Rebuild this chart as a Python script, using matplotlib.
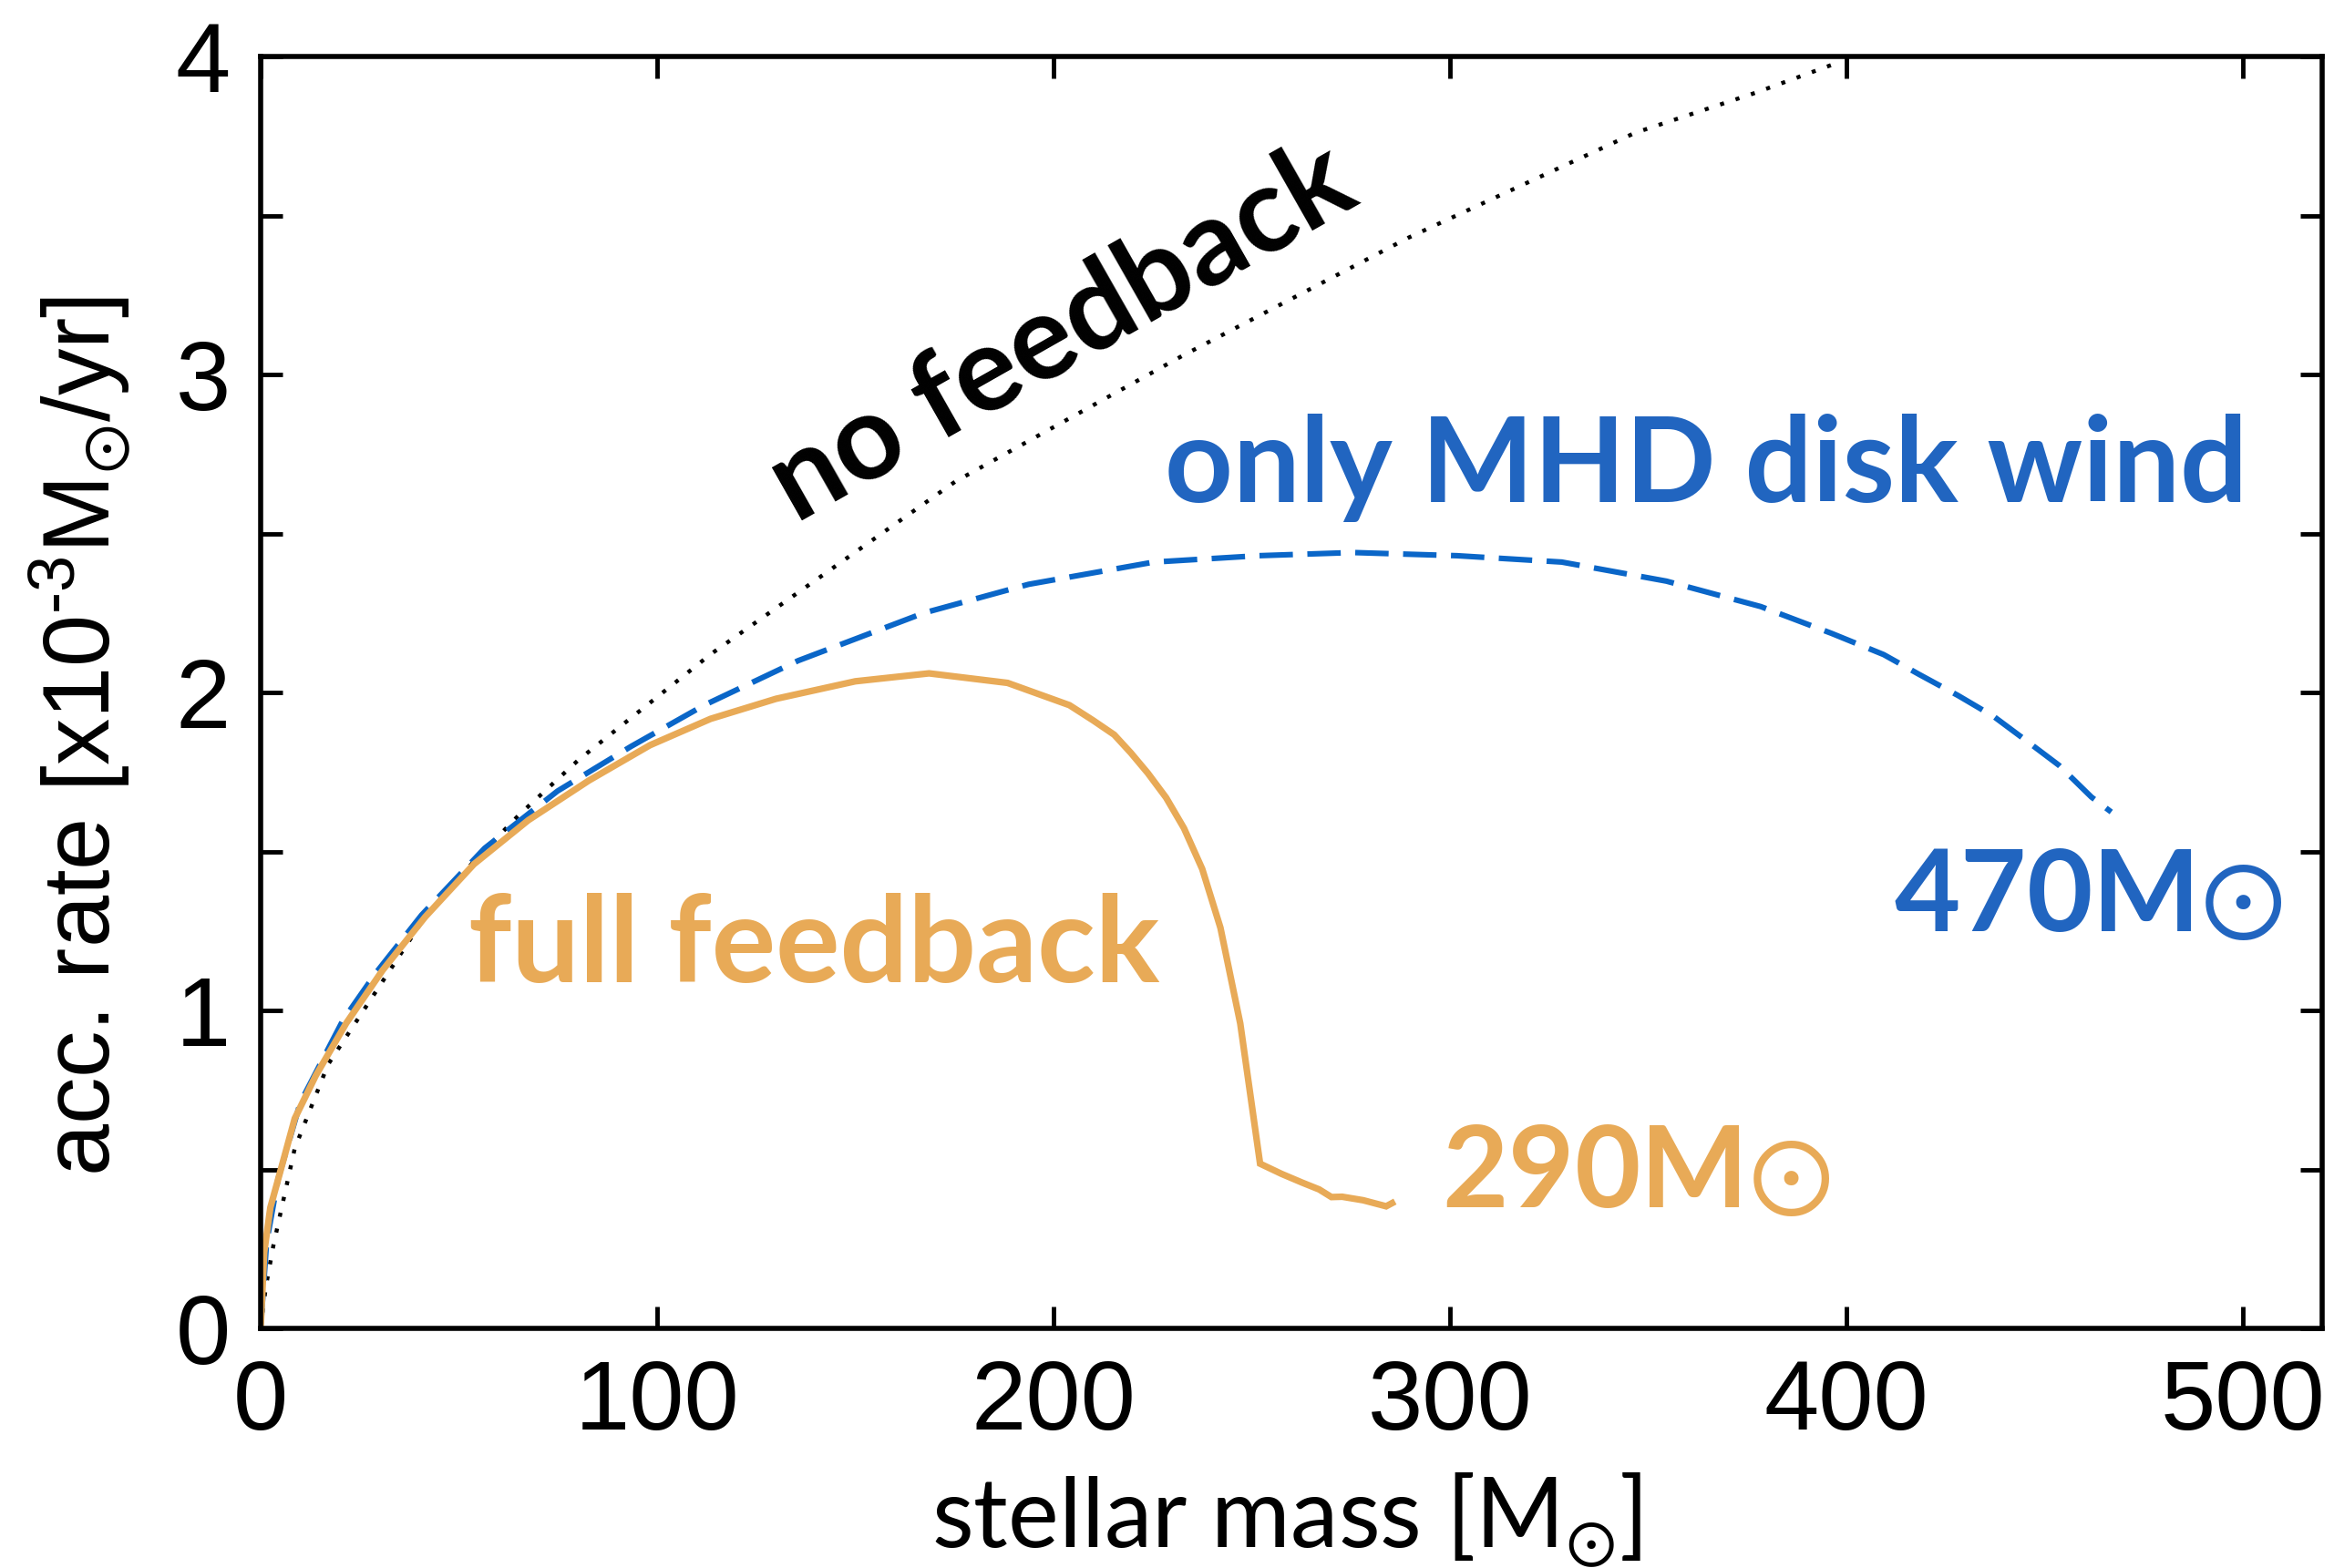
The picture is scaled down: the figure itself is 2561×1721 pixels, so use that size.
import matplotlib
matplotlib.use('Agg')
import matplotlib.pyplot as plt
from matplotlib.ticker import MultipleLocator

# stellar mass [Msun] vs accretion rate [1e-3 Msun/yr]
mass_none = [0, 1.3, 3.2, 8.6, 17, 40.7, 47.6, 54.5, 65.2, 80.2, 113.5,
             175.2, 232.4, 289.5, 346.7, 377.1, 397.7]
rate_none = [0, 0.13, 0.26, 0.566, 0.83, 1.28, 1.384, 1.478, 1.615, 1.788, 2.12,
             2.663, 3.058, 3.43, 3.76, 3.886, 3.98]

mass_wind = [0, 1.5, 4.4, 10, 20.8, 29.2, 40.6, 56.5, 74.9, 93.4, 111.9, 135.6,
             167.3, 193.7, 225.3, 251.7, 275.5, 301.8, 328.2, 354.6, 378.4,
             396.2, 409.4, 418.3, 428.2, 437.2, 445.4, 453.6, 461.8, 466.8]
rate_wind = [0, 0.27, 0.47, 0.71, 0.97, 1.12, 1.30, 1.51, 1.69, 1.83, 1.96, 2.10,
             2.25, 2.34, 2.41, 2.43, 2.44, 2.43, 2.41, 2.35, 2.27,
             2.186, 2.119, 2.057, 1.99, 1.924, 1.848, 1.771, 1.671, 1.624]

mass_full = [0, 0.9, 2.45, 5.1, 8.6, 13.9, 21.6, 30.8, 41.5, 53.8, 67.5, 82.8,
             98.2, 113.5, 130, 150, 168.6, 188.4, 204, 210, 215.3, 219.5, 223.8,
             228.4, 232.9, 237.5, 242.1, 247.1, 252.1, 257.5, 262.8, 267.0,
             270.1, 272.8, 278.1, 283.9, 285.4]
rate_full = [0, 0.24, 0.38, 0.5, 0.66, 0.795, 0.96, 1.127, 1.294, 1.46, 1.598, 1.723,
             1.834, 1.917, 1.98, 2.035, 2.06, 2.03, 1.96, 1.912, 1.867, 1.81, 1.746,
             1.669, 1.573, 1.445, 1.26, 0.959, 0.518, 0.486, 0.458, 0.437,
             0.413, 0.414, 0.403, 0.384, 0.394]

ORANGE = '#E8AA57'
BLUE_LINE = '#0A66C8'
BLUE_TEXT = '#2165C0'

plt.rcParams['mathtext.fontset'] = 'dejavusans'
plt.rcParams['mathtext.default'] = 'regular'

fig = plt.figure(figsize=(25.61, 17.21), dpi=100)
ax = fig.add_axes([286 / 2561, 1 - 1458 / 1721, 2262 / 2561, 1396 / 1721])

ax.plot(mass_none, rate_none, color='black', lw=3.2, linestyle=(0, (1, 3)))
ax.plot(mass_wind, rate_wind, color=BLUE_LINE, lw=4.4, linestyle=(0, (6.0, 2.6)))
ax.plot(mass_full, rate_full, color=ORANGE, lw=5.2, solid_joinstyle='miter')

ax.set_xlim(0, 520)
ax.set_ylim(0, 4)
ax.xaxis.set_major_locator(MultipleLocator(100))
ax.yaxis.set_major_locator(MultipleLocator(1))
ax.yaxis.set_minor_locator(MultipleLocator(0.5))
ax.tick_params(which='both', direction='in', top=True, right=True,
               length=17, width=3.5)
ax.tick_params(axis='x', which='minor', top=False, bottom=False)
ax.tick_params(axis='x', pad=24)
ax.tick_params(axis='y', pad=24)
for spine in ax.spines.values():
    spine.set_linewidth(4)
for lab in ax.get_xticklabels() + ax.get_yticklabels():
    lab.set_fontfamily('Liberation Sans')
    lab.set_fontsize(78)

# axis labels
fig.text(87 / 2561, 1 - 808 / 1721, 'acc. rate [x10$^{‐3}$M$_{\\odot}$/yr]',
         rotation=90, ha='center', va='center', fontsize=74,
         family=['Liberation Sans', 'DejaVu Sans'])
fig.text(1412 / 2561, 1 - 1699 / 1721, 'stellar mass [M$_{\\odot}$]',
         ha='center', va='baseline', fontsize=76,
         family=['Lato', 'DejaVu Sans'])

# curve annotations
bold = dict(fontweight='bold', family=['Lato', 'DejaVu Sans'],
            va='baseline', ha='left')
ax.text(135, 2.53, 'no feedback', color='black', rotation=29.6,
        rotation_mode='anchor', fontsize=94, **bold)
ax.text(228, 2.60, 'only MHD disk wind', color=BLUE_TEXT, fontsize=94, **bold)
ax.text(52.5, 1.09, 'full feedback', color=ORANGE, fontsize=95, **bold)
ax.text(298, 0.38, '290M$\\odot$', color=ORANGE, fontsize=90, **bold)
ax.text(412, 1.25, '470M$\\odot$', color=BLUE_TEXT, fontsize=90, **bold)

fig.savefig('out.png', dpi=100)
